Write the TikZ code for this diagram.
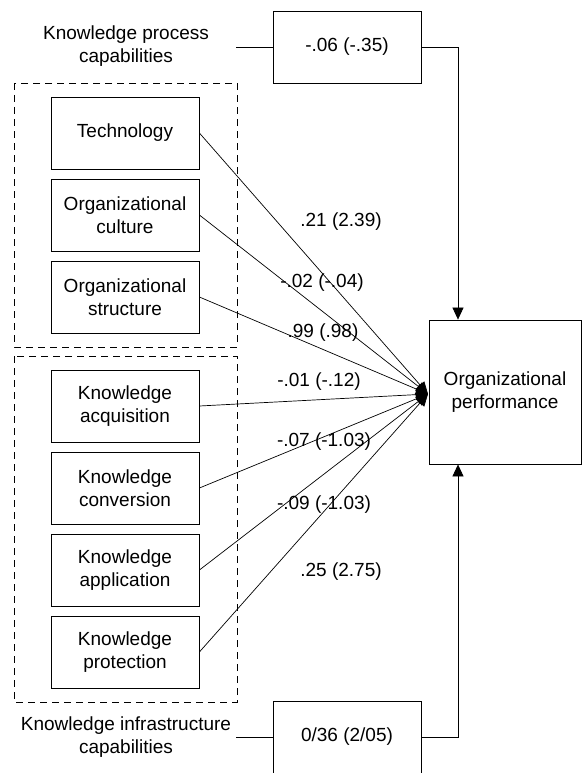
\documentclass[tikz,border=0pt]{standalone}
\usepackage{fontspec}
\setmainfont{Liberation Sans}
\usetikzlibrary{arrows.meta}
\begin{document}
\begin{tikzpicture}[x=1pt,y=-1pt,
  every node/.style={font=\fontsize{19}{22.5}\selectfont, align=center, inner sep=0pt},
  box/.style={draw, line width=0.8pt, minimum width=148pt, minimum height=72pt},
  grp/.style={draw, dashed, line width=0.8pt, dash pattern=on 7pt off 5pt},
  conn/.style={line width=0.7pt},
  arr/.style={line width=0.7pt, -{Triangle[length=12pt,width=11pt]}},
  lab/.style={}]
\useasboundingbox (0,0) rectangle (583,773);
% dashed groups
\draw[grp] (14,83) rectangle (237,347);
\draw[grp] (14,356) rectangle (237,702);
% inner boxes
\node[box] (tech) at (125,133) {Technology};
\node[box] (cult) at (125,215) {Organizational\\culture};
\node[box] (struc) at (125,297) {Organizational\\structure};
\node[box] (acq) at (125,406) {Knowledge\\acquisition};
\node[box] (conv) at (125,488) {Knowledge\\conversion};
\node[box] (appl) at (125,570) {Knowledge\\application};
\node[box] (prot) at (125,652) {Knowledge\\protection};
% outcome
\node[draw, line width=0.8pt, minimum width=152pt, minimum height=144pt] (perf) at (505,392) {Organizational\\performance};
\coordinate (tip) at (428,394);
% moderators
\node[box] (kpc) at (347,47) {-.06 (-.35)};
\node[box] (kic) at (347,737) {0/36 (2/05)};
\node (kpcl) at (126,46) {Knowledge process\\capabilities};
\node (kicl) at (126,737) {Knowledge infrastructure\\capabilities};
\coordinate (kpcs) at (236,47);
\coordinate (kics) at (236,737);
\draw[conn] (kpcs) -- (kpc.west);
\draw[conn] (kics) -- (kic.west);
\draw[arr] (kpc.east) -| (perf.north -| 458,0);
\draw[arr] (kic.east) -| (perf.south -| 458,0);
% paths
\foreach \n in {tech,cult,struc,acq,conv,appl,prot}
  \draw[arr] (\n.east) -- (tip);
% path labels
\node[lab] (l1) at (341,222) {.21 (2.39)};
\node[lab] (l2) at (322,283) {-.02 (-.04)};
\node[lab] (l3) at (323,333) {.99 (.98)};
\node[lab] (l4) at (319,382) {-.01 (-.12)};
\node[lab] (l5) at (324,442) {-.07 (-1.03)};
\node[lab] (l6) at (324,505) {-.09 (-1.03)};
\node[lab] (l7) at (341,572) {.25 (2.75)};
\end{tikzpicture}
\end{document}
